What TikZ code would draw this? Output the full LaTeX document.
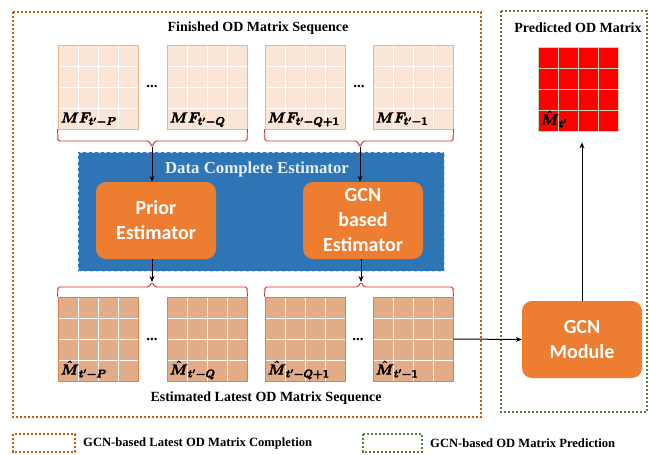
\documentclass[tikz,border=0pt]{standalone}
\usepackage{amsmath}
\usepackage{fontspec}
\setmainfont{Liberation Serif}
\newfontfamily\calib{Carlito}
\usetikzlibrary{arrows.meta,calc}
\definecolor{dotO}{HTML}{C55A11}
\definecolor{dotG}{HTML}{548235}
\definecolor{topF}{HTML}{FBE5D6}
\definecolor{topB}{HTML}{F4B183}
\definecolor{botF}{HTML}{E2AC88}
\definecolor{botB}{HTML}{D9824B}
\definecolor{blueF}{HTML}{2E75B6}
\definecolor{blueB}{HTML}{BDD7EE}
\definecolor{boxO}{HTML}{ED7D31}
\definecolor{brcR}{HTML}{D02828}
\definecolor{titleW}{HTML}{E4EEF8}
\definecolor{predG}{HTML}{C5D9B8}
\newcommand{\heavy}[1]{\special{pdf:literal 2 Tr 0.45 w}#1\special{pdf:literal 0 Tr 0 w}}
\begin{document}
\begin{tikzpicture}[x=1pt,y=-1pt,
  ttl/.style={font=\fontsize{14}{16}\selectfont\bfseries, inner sep=0pt},
  matgrid/.style={path picture={
    \foreach \f in {0.25,0.5,0.75}{
      \draw[#1,line width=0.9pt] ($(path picture bounding box.north west)!\f!(path picture bounding box.north east)$) -- ($(path picture bounding box.south west)!\f!(path picture bounding box.south east)$);
      \draw[#1,line width=0.9pt] ($(path picture bounding box.north west)!\f!(path picture bounding box.south west)$) -- ($(path picture bounding box.north east)!\f!(path picture bounding box.south east)$);
    }}},
  mat/.style={minimum width=80pt, minimum height=84pt, inner sep=0pt, line width=0.8pt},
  topmat/.style={mat, draw=topB, fill=topF, matgrid=white},
  botmat/.style={mat, draw=botB, fill=botF, matgrid=white},
  predmat/.style={mat, draw=predG, fill=red, matgrid=predG},
  lbl/.style={anchor=base west, inner sep=0pt, font=\fontsize{15}{15}\selectfont},
  dots/.style={inner sep=0pt, font=\fontsize{15}{15}\selectfont\bfseries},
  obox/.style={fill=boxO, rounded corners=10pt, text=white, align=center,
    font=\calib\bfseries\fontsize{20}{25}\selectfont, inner sep=0pt},
  brc/.style={draw=brcR, line width=0.9pt, rounded corners=1.5pt},
  arr/.style={-{Stealth[length=6pt,width=5pt]}, line width=1pt, black},
  dotbox/.style={line width=2.6pt, dash pattern=on 2.4pt off 1.6pt},
]
\useasboundingbox (0,0) rectangle (649,455);

% group boxes
\draw[dotbox, dotO] (13,12) rectangle (481,417);
\draw[dotbox, dotG] (501,11) rectangle (647,412);

% titles
\node[ttl] (t1) at (258,28) {Finished OD Matrix Sequence};
\node[ttl] (t2) at (578,28) {Predicted OD Matrix};
\node[ttl] (t3) at (266,398) {Estimated Latest OD Matrix Sequence};

% top matrices
\node[topmat] (mf1) at (98,87) {};
\node[topmat] (mf2) at (207,87) {};
\node[topmat] (mf3) at (305,87) {};
\node[topmat] (mf4) at (413,87) {};
\node[lbl] (lmf1) at ($(mf1.south west)+(3,-7)$) {\heavy{$\boldsymbol{MF_{t'-P}}$}};
\node[lbl] (lmf2) at ($(mf2.south west)+(3,-7)$) {\heavy{$\boldsymbol{MF_{t'-Q}}$}};
\node[lbl] (lmf3) at ($(mf3.south west)+(3,-7)$) {\heavy{$\boldsymbol{MF_{t'-Q+1}}$}};
\node[lbl] (lmf4) at ($(mf4.south west)+(3,-7)$) {\heavy{$\boldsymbol{MF_{t'-1}}$}};
\node[dots] (d1) at (152,86) {...};
\node[dots] (d2) at (359,86) {...};

% blue estimator block
\node[fill=blueF, draw=blueB, dashed, line width=0.6pt, minimum width=366pt, minimum height=119pt, inner sep=0pt] (dce) at (261,211.5) {};
\node[font=\fontsize{16.8}{17}\selectfont\bfseries, text=titleW, inner sep=0pt] (dcet) at (257,169) {Data Complete Estimator};
\node[obox, minimum width=120pt, minimum height=77pt] (prior) at (156,220.5) {Prior\\Estimator};
\node[obox, minimum width=120pt, minimum height=77pt] (gest) at (363,220.5) {GCN\\based\\Estimator};

% bottom matrices
\node[botmat] (em1) at (98,339) {};
\node[botmat] (em2) at (207,339) {};
\node[botmat] (em3) at (305,339) {};
\node[botmat] (em4) at (413,339) {};
\node[lbl] (lem1) at ($(em1.south west)+(3,-7)$) {\heavy{$\hat{\boldsymbol{M}}_{\boldsymbol{t'-P}}$}};
\node[lbl] (lem2) at ($(em2.south west)+(3,-7)$) {\heavy{$\hat{\boldsymbol{M}}_{\boldsymbol{t'-Q}}$}};
\node[lbl] (lem3) at ($(em3.south west)+(3,-7)$) {\heavy{$\hat{\boldsymbol{M}}_{\boldsymbol{t'-Q+1}}$}};
\node[lbl] (lem4) at ($(em4.south west)+(3,-7)$) {\heavy{$\hat{\boldsymbol{M}}_{\boldsymbol{t'-1}}$}};
\node[dots] (d3) at (152,339) {...};
\node[dots] (d4) at (358,339) {...};

% prediction
\node[obox, minimum width=120pt, minimum height=77pt] (gmod) at (582,339.5) {GCN\\Module};
\node[predmat] (pred) at (578,89) {};
\node[lbl] (lpred) at ($(pred.south west)+(3,-7)$) {\heavy{$\hat{\boldsymbol{M}}_{\boldsymbol{t'}}$}};

% braces
\coordinate (b1) at (152,147);
\coordinate (b2) at (360,147);
\coordinate (b3) at (152,282);
\coordinate (b4) at (361,282);
\draw[brc] (mf1.south west) -- (58,141) -- (149,141) -- (b1) -- (155,141) -- (247,141) -- (mf2.south east);
\draw[brc] (mf3.south west) -- (265,141) -- (357,141) -- (b2) -- (363,141) -- (453,141) -- (mf4.south east);
\draw[brc] (em1.north west) -- (58,287) -- (149,287) -- (b3) -- (155,287) -- (247,287) -- (em2.north east);
\draw[brc] (em3.north west) -- (265,287) -- (358,287) -- (b4) -- (364,287) -- (453,287) -- (em4.north east);

% arrows
\draw[arr] (b1) -- (b1 |- prior.north);
\draw[arr] (b2) -- (b2 |- gest.north);
\draw[arr] (b3 |- prior.south) -- (b3);
\draw[arr] (b4 |- gest.south) -- (b4);
\draw[arr] (em4.east) -- (gmod.west);
\draw[arr, shorten >=11pt] (gmod.north) -- (gmod.north |- pred.south);

% legend
\draw[dotbox, dotO] (13,434) rectangle (75,452);
\node[ttl, font=\fontsize{12.6}{14}\selectfont\bfseries, anchor=west] (leg1) at (83,443) {GCN-based Latest OD Matrix Completion};
\draw[dotbox, dotG] (363,434) rectangle (422,452);
\node[ttl, font=\fontsize{12.6}{14}\selectfont\bfseries, anchor=west] (leg2) at (430,443) {GCN-based OD Matrix Prediction};
\end{tikzpicture}
\end{document}
